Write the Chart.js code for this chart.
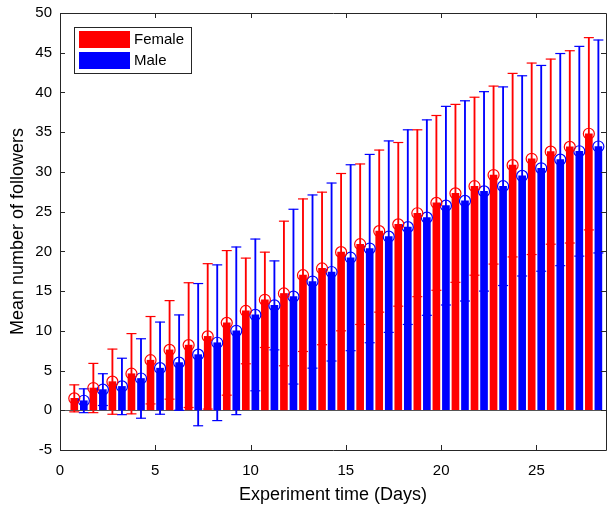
<!DOCTYPE html>
<html>
<head>
<meta charset="utf-8">
<script src="https://cdn.jsdelivr.net/npm/chart.js@4.4.1/dist/chart.umd.min.js"></script>
<style>
    html, body { margin: 0; padding: 0; background: #fff; overflow: hidden; }
    #graphContainer { width: 608px; height: 508px; }
    canvas { display: block; }
</style>
</head>
<body>
<div id="graphContainer"><canvas id="followersChart" width="608" height="508"></canvas></div>
<script>
var days = [1, 2, 3, 4, 5, 6, 7, 8, 9, 10, 11, 12, 13, 14, 15, 16, 17, 18, 19, 20, 21, 22, 23, 24, 25, 26, 27, 28];
var femaleMean = [1.5, 2.8, 3.6, 4.6, 6.3, 7.6, 8.2, 9.3, 11.0, 12.5, 13.9, 14.7, 17.0, 17.85, 19.9, 20.9, 22.55, 23.4, 24.8, 26.1, 27.3, 28.2, 29.6, 30.85, 31.65, 32.55, 33.15, 34.8];
var femaleErr = [1.7, 3.1, 4.1, 5.05, 5.5, 6.2, 7.85, 9.15, 9.1, 6.65, 6.0, 9.1, 9.6, 9.6, 9.9, 10.1, 10.2, 10.3, 10.5, 11.0, 11.2, 11.2, 11.2, 11.55, 12.05, 11.65, 12.1, 12.1];
var maleMean = [1.2, 2.6, 3.0, 4.0, 5.3, 6.0, 7.0, 8.5, 10.0, 12.0, 13.2, 14.3, 16.2, 17.4, 19.2, 20.35, 21.85, 23.05, 24.25, 25.75, 26.35, 27.55, 28.2, 29.5, 30.45, 31.55, 32.6, 33.2];
var maleErr = [1.5, 2.0, 3.55, 5.0, 5.8, 6.0, 8.95, 9.8, 10.55, 9.55, 5.6, 11.0, 10.9, 11.2, 11.7, 11.85, 12.05, 12.25, 12.3, 12.5, 12.6, 12.55, 12.5, 12.6, 12.95, 13.35, 13.2, 13.4];
var seriesNames = ['Female', 'Male'];
var xTickValues = [0, 5, 10, 15, 20, 25];
var yTickValues = [-5, 0, 5, 10, 15, 20, 25, 30, 35, 40, 45, 50];

var RED = '#ff0000';
var BLUE = '#0000ff';
var AXIS = '#262626';
var FONT = '"Liberation Sans", Arial, Helvetica, sans-serif';
var OFFSET = 0.25;

function points(shift, values) {
    return days.map(function (d, i) {
        return { x: d + shift, y: values[i] };
    });
}

function ranges(shift, mean, err) {
    return days.map(function (d, i) {
        return { x: d + shift, y: [mean[i] - err[i], mean[i] + err[i]] };
    });
}

function caps(shift, mean, err, sign) {
    return days.map(function (d, i) {
        return { x: d + shift, y: mean[i] + sign * err[i] };
    });
}

function circleSet(data, color) {
    return {
        type: 'scatter', data: data, order: 0,
        pointStyle: 'circle', pointRadius: 5.5, pointBorderWidth: 1.2,
        borderColor: color, backgroundColor: 'rgba(0,0,0,0)'
    };
}

function capSet(data, color) {
    return {
        type: 'scatter', data: data, order: 1,
        pointStyle: 'line', pointRadius: 5, pointBorderWidth: 1.2,
        borderColor: color, backgroundColor: color
    };
}

function barSet(data, color, width, order) {
    return {
        type: 'bar', data: data, order: order, grouped: false,
        barThickness: width, maxBarThickness: width,
        backgroundColor: color, borderWidth: 0
    };
}

// box with inward ticks on all sides, like the original axes
var axesBox = {
    id: 'axesBox',
    afterDraw: function (chart) {
        var ctx = chart.ctx;
        var a = chart.chartArea;
        var x = chart.scales.x, y = chart.scales.y;
        var len = 5;
        ctx.save();
        ctx.strokeStyle = AXIS;
        ctx.lineWidth = 1;
        ctx.beginPath();
        ctx.rect(Math.round(a.left) + 0.5, Math.round(a.top) + 0.5, Math.round(a.right - a.left), Math.round(a.bottom - a.top));
        xTickValues.forEach(function (v) {
            var px = Math.round(x.getPixelForValue(v)) + 0.5;
            ctx.moveTo(px, a.bottom); ctx.lineTo(px, a.bottom - len);
            ctx.moveTo(px, a.top); ctx.lineTo(px, a.top + len);
        });
        yTickValues.forEach(function (v) {
            var py = Math.round(y.getPixelForValue(v)) + 0.5;
            ctx.moveTo(a.left, py); ctx.lineTo(a.left + len, py);
            ctx.moveTo(a.right, py); ctx.lineTo(a.right - len, py);
        });
        ctx.stroke();

        // legend box
        ctx.fillStyle = '#fff';
        ctx.fillRect(74, 27, 117, 46);
        ctx.strokeRect(74.5, 27.5, 117, 46);
        ctx.fillStyle = RED;
        ctx.fillRect(79, 31, 51, 17);
        ctx.fillStyle = BLUE;
        ctx.fillRect(79, 52, 51, 17);
        ctx.fillStyle = '#000';
        ctx.font = '15px ' + FONT;
        ctx.textBaseline = 'middle';
        ctx.textAlign = 'left';
        ctx.fillText(seriesNames[0], 134, 40);
        ctx.fillText(seriesNames[1], 134, 61);
        ctx.restore();
    }
};

var ctx = document.getElementById('followersChart').getContext('2d');
var chart = new Chart(ctx, {
    type: 'bar',
    data: {
        datasets: [
            circleSet(points(-OFFSET, femaleMean), RED),
            circleSet(points(OFFSET, maleMean), BLUE),
            capSet(caps(-OFFSET, femaleMean, femaleErr, 1), RED),
            capSet(caps(-OFFSET, femaleMean, femaleErr, -1), RED),
            capSet(caps(OFFSET, maleMean, maleErr, 1), BLUE),
            capSet(caps(OFFSET, maleMean, maleErr, -1), BLUE),
            barSet(ranges(-OFFSET, femaleMean, femaleErr), RED, 1.2, 2),
            barSet(ranges(OFFSET, maleMean, maleErr), BLUE, 1.2, 2),
            barSet(points(-OFFSET, femaleMean), RED, 7, 3),
            barSet(points(OFFSET, maleMean), BLUE, 7, 3)
        ]
    },
    options: {
        responsive: false,
        animation: false,
        devicePixelRatio: 1,
        layout: { autoPadding: false, padding: { top: 13, right: 2, left: 0, bottom: 0 } },
        plugins: {
            legend: { display: false },
            tooltip: { enabled: false }
        },
        scales: {
            x: {
                type: 'linear',
                offset: false,
                min: 0,
                max: 28.65,
                afterBuildTicks: function (scale) {
                    scale.ticks = xTickValues.map(function (v) { return { value: v }; });
                },
                afterFit: function (scale) {
                    scale.height = 58;
                    scale.paddingLeft = 0;
                    scale.paddingRight = 0;
                },
                grid: { display: false, offset: false },
                border: { display: false },
                ticks: { color: '#000', padding: 4, maxRotation: 0, font: { size: 15, family: FONT } },
                title: { display: true, text: 'Experiment time (Days)', color: '#000', padding: { top: 0, bottom: 2 }, font: { size: 18, family: FONT } }
            },
            y: {
                min: -5,
                max: 50,
                afterBuildTicks: function (scale) {
                    scale.ticks = yTickValues.map(function (v) { return { value: v }; });
                },
                afterFit: function (scale) {
                    scale.width = 60;
                    scale.paddingTop = 0;
                    scale.paddingBottom = 0;
                },
                grid: {
                    drawTicks: false,
                    color: function (c) { return c.tick && c.tick.value === 0 ? '#555' : 'rgba(0,0,0,0)'; }
                },
                border: { display: false },
                ticks: { color: '#000', padding: 8, font: { size: 15, family: FONT } },
                title: { display: true, text: 'Mean number of followers', color: '#000', padding: { top: 7, bottom: 0 }, font: { size: 18, family: FONT } }
            }
        }
    },
    plugins: [axesBox]
});
</script>
</body>
</html>
